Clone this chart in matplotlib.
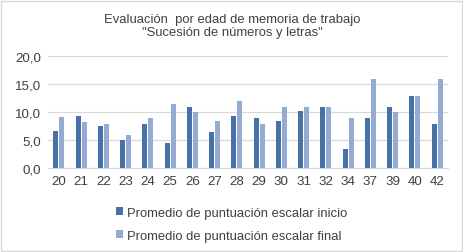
import matplotlib
matplotlib.use('Agg')
import matplotlib.pyplot as plt
import numpy as np
from matplotlib.patches import Rectangle
from matplotlib.ticker import FuncFormatter

plt.rcParams['font.family'] = ['Liberation Sans', 'DejaVu Sans']

edades = ['20', '21', '22', '23', '24', '25', '26', '27', '28',
          '29', '30', '31', '32', '34', '37', '39', '40', '42']
inicio = [6.6, 9.3, 7.5, 5.0, 7.9, 4.5, 10.9, 6.4, 9.3,
          8.9, 8.4, 10.2, 10.9, 3.4, 8.9, 10.9, 12.9, 7.9]
final = [9.1, 8.2, 7.9, 5.9, 8.9, 11.4, 10.0, 8.4, 12.0,
         7.9, 10.9, 10.9, 10.9, 8.9, 15.9, 10.0, 12.9, 15.9]

c_ini = '#4672A8'
c_fin = '#95ABD3'

fig = plt.figure(figsize=(4.64, 2.53), dpi=100)
ax = fig.add_axes([0.103, 0.332, 0.863, 0.443])

x = np.arange(len(edades))
w = 0.23
ax.bar(x - w/2 - 0.02, inicio, w, color=c_ini, label='Promedio de puntuación escalar inicio', zorder=3)
ax.bar(x + w/2 + 0.02, final, w, color=c_fin, label='Promedio de puntuación escalar final', zorder=3)

ax.set_xlim(-0.5, len(edades) - 0.5)
ax.set_ylim(0, 20)
ax.set_yticks([0, 5, 10, 15, 20])
ax.yaxis.set_major_formatter(FuncFormatter(lambda v, p: f'{v:.1f}'.replace('.', ',')))
ax.set_xticks(x)
ax.set_xticklabels(edades)
ax.tick_params(length=0, labelsize=9.6, colors='#404040')
ax.tick_params(axis='y', pad=5)
ax.tick_params(axis='x', pad=5)
ax.grid(axis='y', color='#D9D9D9', linewidth=0.9, zorder=0)
for s in ['top', 'right', 'left']:
    ax.spines[s].set_visible(False)
ax.spines['bottom'].set_color('#D9D9D9')

fig.text(0.5, 0.895, 'Evaluación  por edad de memoria de trabajo\n"Sucesión de números y letras"',
         ha='center', va='center', fontsize=9.4, color='#404040', linespacing=1.15)

leg = fig.legend(loc='upper left', bbox_to_anchor=(0.238, 0.200), frameon=False,
                 fontsize=9.4, handlelength=0.55, handleheight=0.55, handletextpad=0.3,
                 labelspacing=0.85, borderaxespad=0)
for t in leg.get_texts():
    t.set_color('#404040')

fig.patches.append(Rectangle((0.002, 0.004), 0.994, 0.99, transform=fig.transFigure,
                             fill=False, edgecolor='#D9D9D9', linewidth=1))

fig.savefig('out.png', dpi=100)
